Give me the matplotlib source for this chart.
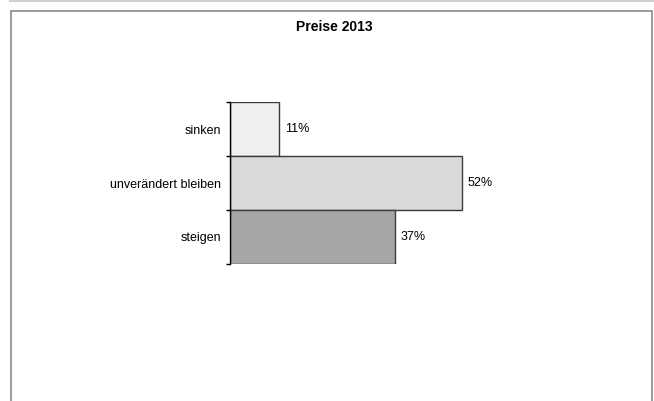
import matplotlib
matplotlib.use("Agg")
import matplotlib.pyplot as plt
from matplotlib.patches import Rectangle
from matplotlib.lines import Line2D

plt.rcParams["font.family"] = ["Liberation Sans", "DejaVu Sans"]

# data
categories = ["sinken", "unverändert bleiben", "steigen"]
values = [11, 52, 37]
colors = ["#f0f0f0", "#d9d9d9", "#a6a6a6"]
title = "Preise 2013"

W, H = 654, 401
fig = plt.figure(figsize=(W / 100, H / 100), dpi=100)

# outer frame (open at the bottom) and thin line at the very top
fig.add_artist(Line2D([10 / W, 1.0], [1 - 1 / H, 1 - 1 / H], transform=fig.transFigure,
                      color="#d0d0d0", linewidth=1.5))
fig.add_artist(Rectangle((10.5 / W, -0.05), 641.5 / W, 1.05 - 10.5 / H, transform=fig.transFigure,
                         fill=False, edgecolor="#8a8a8a", linewidth=1.2))

fig.text(334 / W, 1 - 27 / H, title, ha="center", va="center", fontsize=10, fontweight="bold")

ax = fig.add_axes([230 / W, (H - 264) / H, 370 / W, 162 / H])
ypos = list(range(len(categories)))
ax.barh(ypos, values, height=1.0, color=colors, edgecolor="#3a3a3a", linewidth=1.0)

for y, v in zip(ypos, values):
    ax.annotate(f"{v}%", (v, y), xytext=(4.0, 0), textcoords="offset points",
                ha="left", va="center", fontsize=9)

ax.set_xlim(0, 83)
ax.set_ylim(len(categories) - 0.5, -0.5)

for s in ["top", "right", "bottom"]:
    ax.spines[s].set_visible(False)
ax.spines["left"].set_linewidth(1.0)
ax.spines["left"].set_color("black")

ax.set_xticks([])
ax.set_yticks([y - 0.5 for y in range(len(categories) + 1)])
ax.set_yticklabels([])
ax.tick_params(axis="y", which="major", length=3, width=1.0, direction="out")
ax.set_yticks(ypos, minor=True)
ax.set_yticklabels(categories, minor=True, fontsize=9)
ax.tick_params(axis="y", which="minor", length=0, pad=6.5)

fig.savefig("out.png", dpi=100)
